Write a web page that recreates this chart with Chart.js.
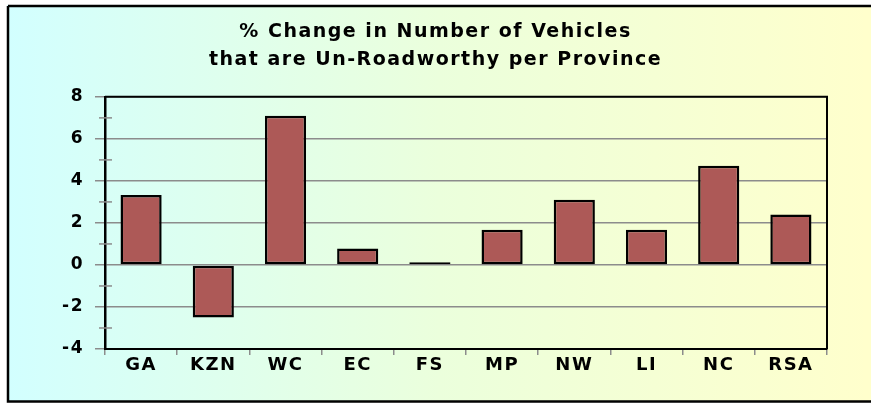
<!DOCTYPE html>
<html>
<head>
<meta charset="utf-8">
<title>% Change in Number of Vehicles that are Un-Roadworthy per Province</title>
<script src="https://cdn.jsdelivr.net/npm/chart.js@4/dist/chart.umd.min.js"></script>
<style>
  html, body { margin: 0; padding: 0; background: #fff; overflow: hidden; }
  #wrap { width: 871px; height: 403px; position: relative; }
  #chart { display: block; }
</style>
</head>
<body>
<div id="wrap"><canvas id="chart"></canvas></div>
<script>
// ---------- Data ----------
const provinces = ["GA", "KZN", "WC", "EC", "FS", "MP", "NW", "LI", "NC", "RSA"];
const pctChange = [3.33, -2.5, 7.1, 0.78, 0.13, 1.68, 3.1, 1.67, 4.72, 2.4];
const titleLines = ["% Change in Number of Vehicles", "that are Un-Roadworthy per Province"];
const yMin = -4, yMax = 8, yStep = 2;

const gridGray = "#8c8c8c";
const font = "'DejaVu Sans', Arial, sans-serif";

// background gradient, outer frame, plot frame and minor ticks
const decor = {
  id: "decor",
  beforeDraw(chart) {
    const ctx = chart.ctx;
    ctx.save();
    const g = ctx.createLinearGradient(7, 0, chart.width, 0);
    g.addColorStop(0, "#d2ffff");
    g.addColorStop(0.5, "#ebffdc");
    g.addColorStop(1, "#ffffcc");
    ctx.fillStyle = g;
    ctx.fillRect(7, 5, chart.width, 396);
    ctx.strokeStyle = "#000";
    ctx.lineWidth = 2.5;
    ctx.beginPath();
    ctx.moveTo(8, 6);
    ctx.lineTo(chart.width + 5, 6);
    ctx.moveTo(8, 6);
    ctx.lineTo(8, 401.5);
    ctx.lineTo(chart.width + 5, 401.5);
    ctx.stroke();
    ctx.restore();
    // the original text is spread out a little
    ctx.letterSpacing = "1.5px";
  },
  afterDraw(chart) {
    const ctx = chart.ctx;
    const a = chart.chartArea;
    const y = chart.scales.y;
    ctx.save();
    // minor ticks on the value axis
    ctx.strokeStyle = gridGray;
    ctx.lineWidth = 1.5;
    for (let v = yMin + 1; v < yMax; v += yStep) {
      const py = y.getPixelForValue(v);
      ctx.beginPath();
      ctx.moveTo(a.left - 6, py);
      ctx.lineTo(a.left + 7, py);
      ctx.stroke();
    }
    // top and right border of the plot
    ctx.strokeStyle = "#000";
    ctx.lineWidth = 2;
    ctx.beginPath();
    ctx.moveTo(a.left, a.top);
    ctx.lineTo(a.right, a.top);
    ctx.lineTo(a.right, a.bottom);
    ctx.stroke();
    // keep the right edge open like the original frame
    ctx.fillStyle = "#ffffcc";
    ctx.fillRect(chart.width - 8, 8, 8, 392);
    ctx.restore();
    ctx.letterSpacing = "0px";
  }
};

new Chart(document.getElementById("chart"), {
  type: "bar",
  data: {
    labels: provinces,
    datasets: [{
      data: pctChange,
      backgroundColor: "#ad5957",
      borderColor: "#000",
      borderWidth: 2.5,
      borderSkipped: false,
      barPercentage: 0.57,
      categoryPercentage: 1
    }]
  },
  options: {
    responsive: true,
    maintainAspectRatio: false,
    animation: false,
    layout: { padding: 0 },
    plugins: {
      legend: { display: false },
      tooltip: { enabled: false },
      title: {
        display: true,
        text: titleLines,
        color: "#000",
        font: { family: font, size: 19, weight: "bold", lineHeight: 1.47 },
        padding: { top: 18, bottom: 23 }
      }
    },
    scales: {
      x: {
        grid: { display: true, drawOnChartArea: false, color: gridGray, tickLength: 6, lineWidth: 1.5 },
        border: { color: "#000", width: 2 },
        ticks: { color: "#000", font: { family: font, size: 18, weight: "bold" }, padding: 0, maxRotation: 0 },
        afterFit(s) { s.height = 54; }
      },
      y: {
        min: yMin,
        max: yMax,
        ticks: { stepSize: yStep, color: "#000", font: { family: font, size: 17, weight: "bold" }, padding: 11 },
        grid: { color: gridGray, lineWidth: 1.5, tickLength: 10 },
        border: { color: "#000", width: 2.5 },
        afterFit(s) { s.width = 105; }
      },
      yRight: {
        position: "right",
        grid: { display: false, drawTicks: false },
        ticks: { display: false },
        border: { display: false },
        afterFit(s) { s.width = 44; }
      }
    }
  },
  plugins: [decor]
});
</script>
</body>
</html>
